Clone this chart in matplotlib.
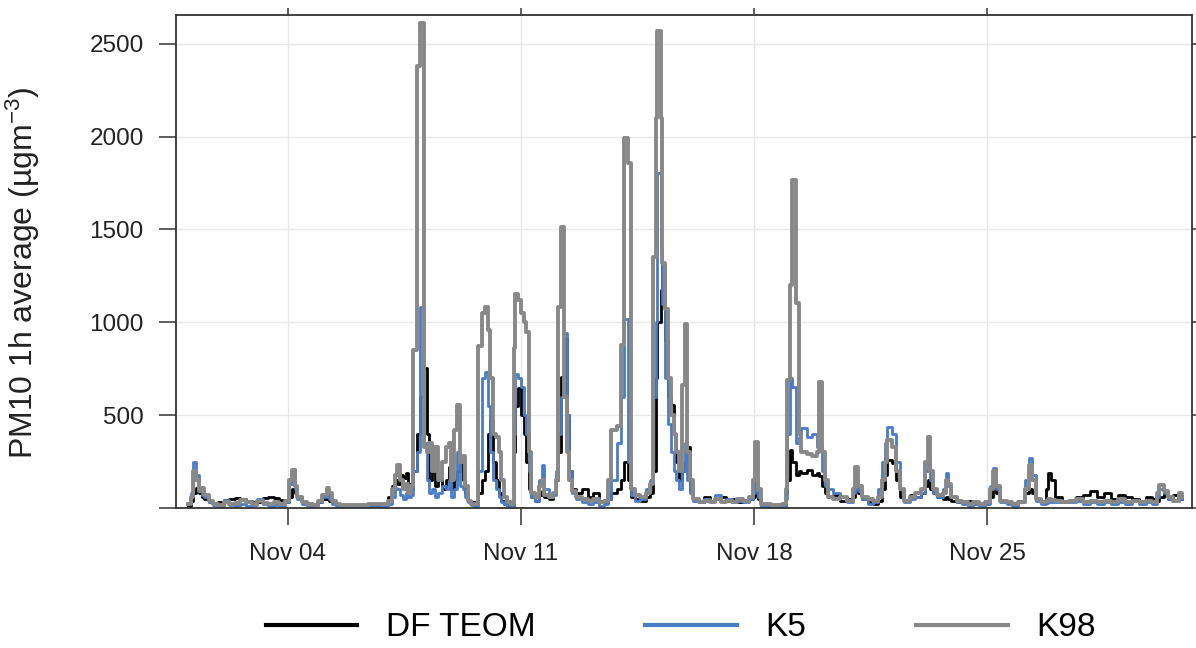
import numpy as np
import pandas as pd
import matplotlib
matplotlib.use("Agg")
import matplotlib.pyplot as plt
import matplotlib.dates as mdates

plt.rcParams['font.family'] = ['Liberation Sans', 'DejaVu Sans']
plt.rcParams['mathtext.default'] = 'regular'

# hours since 1 Nov 00:00 (ugm-3)
hours = [0, 2, 4, 6, 8, 10, 12, 15, 18, 22,
         26, 30, 34, 38, 42, 46, 50, 54, 58, 62, 66, 70,
         73, 75, 77, 79, 82, 86, 90, 94, 97, 100, 102, 104, 107, 110,
         120, 130, 140, 144, 147, 149, 151, 153, 155, 157, 159, 161,
         162, 165, 167, 170, 172, 174, 176, 178, 180, 183, 186, 188, 190, 192, 194, 196, 198, 200, 202, 204, 207,
         209, 212, 214, 216, 218, 220, 222, 224, 226, 228, 230, 233,
         235, 236, 238, 240, 242, 244, 246, 247, 250, 253, 255, 257, 260, 263, 265,
         267, 269, 271, 273, 275, 277, 280, 284, 288, 292, 296, 300,
         303, 305, 309, 312, 314, 317, 319, 322, 326, 330, 333,
         335, 337, 338, 341, 342, 344, 346, 348, 350, 352, 354, 356, 358, 360, 362, 364,
         368, 372, 376, 380, 384, 388, 392, 396, 400, 404, 407, 409, 411, 413, 420, 428,
         431, 432, 434, 435, 438, 440, 442, 446, 450, 453, 455, 457, 459, 461,
         465, 470, 475, 479, 481, 483, 486, 490, 494, 497, 500, 502, 504, 507, 510, 513, 516,
         520, 524, 528, 531, 533, 535, 537, 540, 544, 546, 548, 550, 554, 558, 562, 566, 570, 574,
         578, 580, 582, 585, 590, 594, 598, 603, 606, 608, 611, 615, 618, 620, 622, 625,
         630, 635, 640, 645, 650, 655, 660, 665, 670, 675, 680, 685, 690, 695, 698, 700, 703, 706, 710, 714, 716]

k98 = [20, 60, 200, 150, 90, 110, 70, 40, 20, 15,
       30, 20, 25, 45, 30, 20, 40, 25, 20, 30, 20, 40,
       150, 205, 120, 60, 30, 20, 15, 40, 70, 110, 80, 40, 20, 15,
       15, 20, 20, 40, 100, 180, 230, 150, 100, 130, 80, 120,
       850, 2380, 2610, 330, 300, 350, 200, 330, 150, 250, 330, 350, 150, 420, 555, 250, 280, 120, 40, 20, 20,
       870, 1050, 1085, 960, 700, 400, 380, 300, 150, 60, 30, 20,
       860, 1150, 1120, 1050, 1000, 950, 300, 80, 60, 120, 150, 70, 60, 80, 150,
       1085, 1515, 600, 300, 150, 90, 60, 50, 40, 50, 30, 40,
       150, 420, 440, 880, 1990, 1860, 100, 70, 60, 80, 130,
       1350, 2100, 2570, 2100, 1320, 1070, 700, 500, 400, 300, 200, 660, 990, 300, 150, 50,
       30, 40, 30, 50, 30, 40, 30, 50, 40, 60, 150, 356, 100, 20, 15, 20,
       100, 690, 1200, 1768, 1105, 400, 300, 290, 280, 300, 680, 300, 150, 60,
       50, 60, 40, 100, 220, 120, 60, 50, 40, 60, 150, 250, 367, 330, 200, 100, 40,
       60, 80, 100, 250, 383, 200, 100, 70, 80, 150, 130, 60, 40, 30, 20, 30, 20, 30,
       100, 200, 120, 40, 30, 20, 30, 100, 230, 150, 50, 30, 40, 50, 45, 40,
       30, 40, 50, 30, 40, 30, 40, 30, 50, 30, 40, 30, 40, 30, 80, 124, 90, 60, 40, 80, 60]

k5 = [20, 80, 250, 180, 100, 70, 60, 30, 15, 10,
      45, 15, 10, 20, 10, 15, 50, 20, 10, 15, 10, 30,
      130, 210, 100, 50, 20, 10, 15, 30, 60, 90, 50, 20, 10, 10,
      5, 5, 10, 20, 60, 110, 100, 70, 50, 80, 60, 70,
      200, 300, 1080, 350, 150, 80, 100, 60, 80, 120, 100, 150, 60, 100, 300, 120, 100, 60, 30, 15, 10,
      200, 700, 730, 550, 300, 150, 100, 60, 30, 20, 10, 10,
      400, 720, 700, 650, 500, 400, 200, 60, 40, 150, 230, 100, 60, 70, 200,
      400, 600, 940, 500, 200, 80, 50, 30, 20, 30, 10, 20,
      50, 150, 350, 600, 1020, 250, 70, 40, 50, 100, 150,
      600, 1000, 1805, 1400, 1100, 700, 450, 300, 200, 150, 100, 200, 350, 150, 80, 40,
      30, 50, 40, 70, 40, 50, 30, 40, 30, 50, 80, 150, 60, 10, 5, 10,
      50, 400, 700, 650, 350, 380, 430, 380, 400, 330, 350, 200, 120, 100,
      80, 60, 30, 80, 150, 90, 50, 20, 30, 100, 250, 350, 437, 400, 250, 100, 30,
      50, 60, 80, 200, 250, 150, 80, 60, 100, 190, 120, 60, 30, 20, 10, 20, 10, 20,
      120, 215, 100, 30, 20, 10, 30, 150, 270, 180, 40, 20, 25, 30, 30, 30,
      40, 30, 40, 20, 30, 20, 30, 20, 30, 20, 40, 20, 30, 20, 60, 100, 80, 50, 40, 70, 50]

df_teom = [10, 40, 80, 110, 80, 60, 50, 30, 20, 30,
           45, 50, 55, 50, 40, 30, 35, 55, 60, 55, 45, 30,
           60, 100, 80, 60, 30, 20, 15, 30, 50, 70, 40, 30, 20, 15,
           10, 15, 20, 60, 120, 150, 130, 180, 160, 190, 130, 100,
           200, 400, 600, 754, 400, 150, 200, 120, 150, 100, 150, 220, 100, 150, 200, 275, 150, 80, 40, 30, 20,
           80, 150, 200, 400, 475, 250, 150, 80, 40, 20, 10, 10,
           300, 550, 646, 500, 400, 250, 100, 60, 40, 70, 90, 60, 50, 80, 150,
           300, 706, 915, 500, 200, 100, 80, 100, 60, 80, 40, 30,
           50, 80, 100, 150, 250, 150, 60, 50, 40, 60, 80,
           200, 700, 1000, 1175, 1310, 900, 600, 555, 400, 250, 150, 200, 250, 330, 100, 50,
           30, 60, 40, 50, 60, 40, 50, 30, 40, 50, 60, 80, 50, 10, 5, 10,
           80, 150, 312, 250, 180, 200, 190, 205, 180, 190, 170, 120, 80, 60,
           70, 40, 50, 60, 100, 80, 50, 30, 20, 40, 100, 180, 260, 240, 150, 60, 40,
           70, 60, 80, 120, 150, 100, 80, 60, 50, 60, 50, 40, 30, 30, 40, 30, 20, 30,
           60, 120, 80, 40, 30, 20, 40, 80, 100, 80, 50, 40, 100, 190, 150, 60,
           30, 40, 60, 70, 90, 60, 80, 50, 70, 60, 50, 40, 60, 50, 40, 60, 80, 50, 70, 60, 50]

series_names = ["DF TEOM", "K5", "K98"]
series_colors = ["#000000", "#4a7cc6", "#888888"]

start = pd.Timestamp("2019-11-01")
times = start + pd.to_timedelta(hours, unit="h")

fig = plt.figure(figsize=(11.96, 6.48), dpi=100)
ax = fig.add_axes([0.147, 0.216, 0.8497, 0.761])

for vals, name, col, lw in zip([df_teom, k5, k98], series_names, series_colors, [2.0, 2.0, 2.8]):
    ax.plot(times, vals, drawstyle="steps-post", color=col, lw=lw, label=name)

ax.set_xlim(start - pd.Timedelta(hours=8.6), start + pd.Timedelta(hours=723.5))
ax.set_ylim(0, 2655)

ax.set_yticks([0, 500, 1000, 1500, 2000, 2500])
ax.set_yticklabels(["", "500", "1000", "1500", "2000", "2500"])
ax.set_xticks([pd.Timestamp("2019-11-04"), pd.Timestamp("2019-11-11"),
               pd.Timestamp("2019-11-18"), pd.Timestamp("2019-11-25")])
ax.xaxis.set_major_formatter(mdates.DateFormatter("%b %d"))

ax.grid(True, color="#e8e8e8", lw=1.0)
ax.set_axisbelow(True)
for s in ax.spines.values():
    s.set_color("#333333")
    s.set_linewidth(1.3)

ax.tick_params(axis="both", which="major", direction="out", length=12, width=1.1,
               color="#333333", labelsize=17.5, labelcolor="#222222",
               top=True, right=True)
ax.tick_params(axis="y", pad=11)
ax.tick_params(axis="x", pad=13)
for t in ax.xaxis.get_major_ticks():
    t.tick2line.set_markersize(5)
for t in ax.yaxis.get_major_ticks():
    t.tick2line.set_markersize(5)

ax.set_ylabel("PM10 1h average (µgm$^{-3}$)", fontsize=23, color="#222222")
ax.yaxis.set_label_coords(-0.132, 0.478)

leg = fig.legend(loc="center", bbox_to_anchor=(0.569, 0.031), ncol=3, frameon=False,
                 fontsize=24, handlelength=2.75, handletextpad=0.85, columnspacing=3.3)
for h in leg.get_lines():
    h.set_linewidth(3)

fig.savefig("out.png", dpi=100)
